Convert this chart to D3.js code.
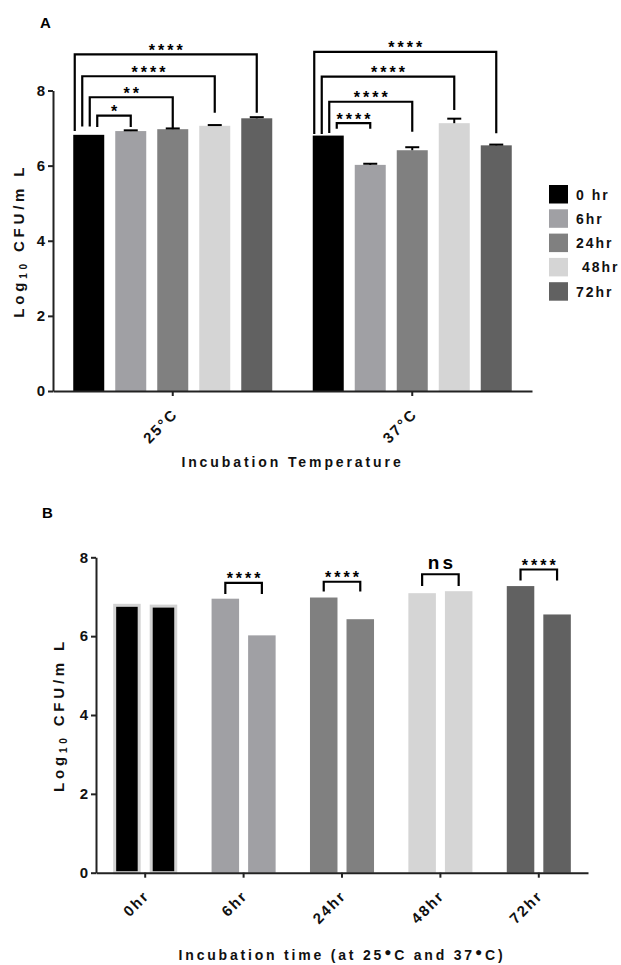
<!DOCTYPE html>
<html>
<head>
<meta charset="utf-8">
<script src="https://cdn.jsdelivr.net/npm/d3@7"></script>
<style>
  body { margin: 0; background: #fff; }
  text { font-family: "Liberation Sans", Arial, sans-serif; font-weight: bold; }
</style>
</head>
<body>
<script>
/* global d3 */

// ---- data ----
const temps = ['25°C', '37°C']
const times = ['0 hr', '6hr', '24hr', ' 48hr', '72hr']
const colors = ['#000000', '#a0a0a4', '#808080', '#d5d5d5', '#616161']

// panel A: log10 CFU/mL per temperature, one value per time point
const means25 = [6.82, 6.92, 6.97, 7.06, 7.26]
const means37 = [6.80, 6.02, 6.41, 7.13, 6.54]
const err25 = [0, 0.02, 0.02, 0.02, 0.03]
const err37 = [0, 0.03, 0.08, 0.12, 0.02]

// significance brackets in A: 0 hr vs each time (bracket top, left leg end, right leg end)
const bracketsA = [
  { temp: '25°C', to: 1, top: 7.33, yl: 7.03, yr: 7.03, label: '*' },
  { temp: '25°C', to: 2, top: 7.82, yl: 7.04, yr: 7.00, label: '**' },
  { temp: '25°C', to: 3, top: 8.38, yl: 7.04, yr: 7.41, label: '****' },
  { temp: '25°C', to: 4, top: 8.96, yl: 6.92, yr: 7.41, label: '****' },
  { temp: '37°C', to: 1, top: 7.13, yl: 6.98, yr: 6.98, label: '****' },
  { temp: '37°C', to: 2, top: 7.70, yl: 6.87, yr: 6.90, label: '****' },
  { temp: '37°C', to: 3, top: 8.37, yl: 6.84, yr: 7.48, label: '****' },
  { temp: '37°C', to: 4, top: 9.03, yl: 6.84, yr: 6.86, label: '****' }
]

// panel B: same samples grouped by time, 25°C then 37°C
const hours = ['0hr', '6hr', '24hr', '48hr', '72hr']
const bTemps = ['25', '37']
const bVals25 = [6.82, 6.95, 6.98, 7.09, 7.27]
const bVals37 = [6.80, 6.02, 6.43, 7.14, 6.55]
const bracketsB = [
  { hour: '6hr', top: 7.35, legs: 7.07, label: '****' },
  { hour: '24hr', top: 7.38, legs: 7.13, label: '****' },
  { hour: '48hr', top: 7.57, legs: 7.27, label: 'ns' },
  { hour: '72hr', top: 7.69, legs: 7.41, label: '****' }
]

const yTicks = [0, 2, 4, 6, 8]

// ---- drawing ----
const svg = d3.select('body').append('svg').attr('width', 621).attr('height', 965)
const axisColor = '#222'

function styleAxis (g) {
  g.selectAll('path.domain').attr('stroke', axisColor).attr('stroke-width', 2)
  g.selectAll('.tick line').attr('stroke', axisColor).attr('stroke-width', 2)
  g.selectAll('.tick text')
    .attr('fill', '#111')
    .style('font-size', '15px')
    .style('font-family', '"Liberation Sans", Arial, sans-serif')
    .style('font-weight', 'bold')
}

function yLabel (x, yMid) {
  const t = svg.append('text')
    .attr('transform', `translate(${x},${yMid}) rotate(-90)`)
    .attr('text-anchor', 'middle')
    .style('font-size', '15px')
    .style('letter-spacing', '3.8px')
    .attr('fill', '#111')
  t.append('tspan').text('Log')
  t.append('tspan').text('10').style('font-size', '10px').attr('dy', 3)
  t.append('tspan').text(' CFU/m L').attr('dy', -3)
}

function bracket (x1, x2, yTop, yL, yR, label, big) {
  svg.append('path')
    .attr('d', `M${x1},${yL}V${yTop}H${x2}V${yR}`)
    .attr('fill', 'none')
    .attr('stroke', '#000')
    .attr('stroke-width', 2.2)
  svg.append('text')
    .attr('x', (x1 + x2) / 2 + 1.5)
    .attr('y', big ? yTop - 5 : yTop + 1.5)
    .attr('text-anchor', 'middle')
    .style('font-size', big ? '19px' : '16px')
    .style('letter-spacing', '3px')
    .text(label)
}

// ===== Panel A =====
svg.append('text').attr('x', 40).attr('y', 28).style('font-size', '15px').text('A')

const yA = d3.scaleLinear().domain([0, 8]).range([391, 90.5])
const x0A = d3.scaleBand().domain(temps).range([53, 532])
const x1A = d3.scaleBand().domain(times).range([0, x0A.bandwidth()])
  .paddingInner(0.262).paddingOuter(0.482)

const dataA = temps.map((t, ti) => ({
  temp: t,
  vals: times.map((h, i) => ({
    time: h,
    i,
    v: ti === 0 ? means25[i] : means37[i],
    e: ti === 0 ? err25[i] : err37[i]
  }))
}))

const grpA = svg.append('g').selectAll('g').data(dataA).join('g')
  .attr('transform', d => `translate(${x0A(d.temp)},0)`)

grpA.selectAll('rect').data(d => d.vals).join('rect')
  .attr('x', d => x1A(d.time))
  .attr('width', x1A.bandwidth())
  .attr('y', d => yA(d.v))
  .attr('height', d => yA(0) - yA(d.v))
  .attr('fill', d => colors[d.i])

// upper error bars
const errA = grpA.selectAll('g.err').data(d => d.vals.filter(v => v.e > 0)).join('g').attr('class', 'err')
errA.append('line')
  .attr('x1', d => x1A(d.time) + x1A.bandwidth() / 2)
  .attr('x2', d => x1A(d.time) + x1A.bandwidth() / 2)
  .attr('y1', d => yA(d.v))
  .attr('y2', d => yA(d.v + d.e))
  .attr('stroke', '#000').attr('stroke-width', 2)
errA.append('line')
  .attr('x1', d => x1A(d.time) + x1A.bandwidth() / 2 - 7)
  .attr('x2', d => x1A(d.time) + x1A.bandwidth() / 2 + 7)
  .attr('y1', d => yA(d.v + d.e))
  .attr('y2', d => yA(d.v + d.e))
  .attr('stroke', '#000').attr('stroke-width', 2)

svg.append('g').attr('transform', 'translate(53,0)')
  .call(d3.axisLeft(yA).tickValues(yTicks).tickSize(5).tickSizeOuter(0).tickPadding(3))
  .call(styleAxis)

const xAxisA = svg.append('g').attr('transform', `translate(0,${yA(0)})`)
  .call(d3.axisBottom(x0A).tickSize(5).tickSizeOuter(0))
  .call(styleAxis)
xAxisA.selectAll('.tick text')
  .attr('text-anchor', 'end')
  .attr('y', 0).attr('dy', 0)
  .attr('transform', 'translate(6,24) rotate(-45)')
  .style('letter-spacing', '2px')

svg.append('text')
  .attr('x', (53 + 532) / 2).attr('y', 467)
  .attr('text-anchor', 'middle')
  .style('font-size', '14px').style('letter-spacing', '2.9px')
  .attr('fill', '#111')
  .text('Incubation Temperature')

yLabel(24, (yA(0) + yA(8)) / 2)

bracketsA.forEach(b => {
  const base = x0A(b.temp) + x1A(times[0])
  const x1 = base + 1.5 + (4 - b.to) * 7.5
  const x2 = x0A(b.temp) + x1A(times[b.to]) + x1A.bandwidth() / 2
  bracket(x1, x2, yA(b.top), yA(b.yl), yA(b.yr), b.label, false)
})

// legend
const leg = svg.append('g').selectAll('g').data(times).join('g')
  .attr('transform', (d, i) => `translate(549,${185 + i * 24.3})`)
leg.append('rect').attr('width', 19).attr('height', 18.5).attr('fill', (d, i) => colors[i])
leg.append('text').attr('x', 27).attr('y', 14.5)
  .style('font-size', '14px').style('letter-spacing', '2px')
  .style('white-space', 'pre').attr('xml:space', 'preserve')
  .attr('fill', '#111')
  .text(d => d)

// ===== Panel B =====
svg.append('text').attr('x', 42).attr('y', 518).style('font-size', '15px').text('B')

const yB = d3.scaleLinear().domain([0, 8]).range([872.7, 557.3])
const x0B = d3.scaleBand().domain(hours).range([96, 588])
const x1B = d3.scaleBand().domain(bTemps).range([0, x0B.bandwidth()])
  .paddingInner(0.247).paddingOuter(0.47)

const dataB = hours.map((h, i) => ({
  hour: h,
  i,
  vals: [{ t: '25', v: bVals25[i] }, { t: '37', v: bVals37[i] }]
}))

const grpB = svg.append('g').selectAll('g').data(dataB).join('g')
  .attr('transform', d => `translate(${x0B(d.hour)},0)`)

grpB.each(function (d) {
  const first = d.i === 0
  d3.select(this).selectAll('rect').data(d.vals).join('rect')
    .attr('x', v => x1B(v.t) + (first ? 1.5 : 0))
    .attr('width', x1B.bandwidth() - (first ? 3 : 0))
    .attr('y', v => yB(v.v) + (first ? 1.5 : 0))
    .attr('height', v => yB(0) - yB(v.v) - (first ? 1.5 : 0))
    .attr('fill', colors[d.i])
    .attr('stroke', first ? '#d3d3d3' : 'none')
    .attr('stroke-width', first ? 3 : 0)
})

svg.append('g').attr('transform', 'translate(96,0)')
  .call(d3.axisLeft(yB).tickValues(yTicks).tickSize(5).tickSizeOuter(0).tickPadding(3))
  .call(styleAxis)

const xAxisB = svg.append('g').attr('transform', `translate(0,${yB(0)})`)
  .call(d3.axisBottom(x0B).tickSize(5).tickSizeOuter(0))
  .call(styleAxis)
xAxisB.selectAll('.tick text')
  .attr('text-anchor', 'end')
  .attr('y', 0).attr('dy', 0)
  .attr('transform', 'translate(5,24) rotate(-45)')
  .style('letter-spacing', '2px')

const titleB = svg.append('text')
  .attr('x', (96 + 588) / 2).attr('y', 960)
  .attr('text-anchor', 'middle')
  .style('font-size', '14px').style('letter-spacing', '2.8px')
  .attr('fill', '#111')
titleB.append('tspan').text('Incubation time (at 25')
titleB.append('tspan').text('●').style('font-size', '12px').attr('dy', -4)
titleB.append('tspan').text('C and 37').attr('dy', 4)
titleB.append('tspan').text('●').style('font-size', '12px').attr('dy', -4)
titleB.append('tspan').text('C)').attr('dy', 4)

yLabel(64, (yB(0) + yB(8)) / 2)

bracketsB.forEach(b => {
  const x1 = x0B(b.hour) + x1B('25') + x1B.bandwidth() / 2
  const x2 = x0B(b.hour) + x1B('37') + x1B.bandwidth() / 2
  bracket(x1, x2, yB(b.top), yB(b.legs), yB(b.legs), b.label, b.label === 'ns')
})
</script>
</body>
</html>
